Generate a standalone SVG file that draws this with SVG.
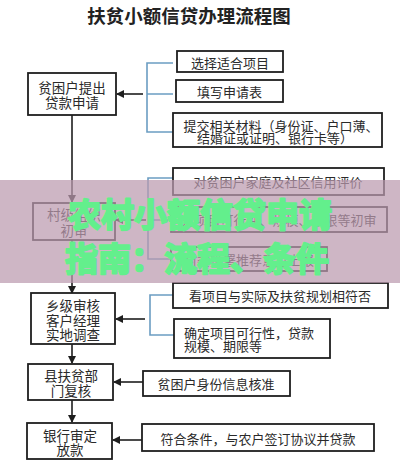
<svg xmlns="http://www.w3.org/2000/svg" width="400" height="464" viewBox="0 0 400 464">
<style>
.box{fill:#fff;stroke:#1e1e1e;stroke-width:1.8}
.t{font-family:"Noto Sans CJK SC","Noto Sans",sans-serif;font-size:13px;fill:#2a2a2a;dominant-baseline:central}
.c{text-anchor:middle}
.ln{fill:none;stroke:#1e1e1e;stroke-width:1.6}
.br{fill:none;stroke:#6b9dc2;stroke-width:1.6}
.wm{font-family:"Noto Sans CJK SC","Noto Sans",sans-serif;font-size:33px;font-weight:700;fill:#63ef8c;stroke:#63ef8c;stroke-width:2;stroke-linejoin:round;dominant-baseline:central}
</style>
<defs>
<marker id="ah" markerWidth="8" markerHeight="8" refX="7" refY="4" orient="auto" markerUnits="userSpaceOnUse">
<path d="M0,0 L8,4 L0,8 Z" fill="#1e1e1e"/>
</marker>
</defs>
<rect width="400" height="464" fill="#fff"/>
<text x="189" y="15" class="t c" style="font-size:18.5px;font-weight:700;fill:#222">扶贫小额信贷办理流程图</text>

<g id="connectors">
<path class="ln" d="M72,115 V202" marker-end="url(#ah)"/>
<path class="ln" d="M72,240 V293" marker-end="url(#ah)"/>
<path class="ln" d="M72,344 V363" marker-end="url(#ah)"/>
<path class="ln" d="M72,400 V422" marker-end="url(#ah)"/>
<path class="ln" d="M143,94 H117" marker-end="url(#ah)"/>
<path class="ln" d="M146,220 H116" marker-end="url(#ah)"/>
<path class="ln" d="M145,319 H116" marker-end="url(#ah)"/>
<path class="ln" d="M143,382 H114" marker-end="url(#ah)"/>
<path class="ln" d="M142,440 H113" marker-end="url(#ah)"/>
<path class="br" d="M173,63 H147 V132 H173 M147,94 H173"/>
<path class="br" d="M173,178 H148 V259 H171 M148,220 H171"/>
<path class="br" d="M173,295 H150 V335 H174"/>
</g>

<g id="n1"><rect class="box" x="28" y="73" width="88" height="42"/>
<text class="t c" x="72" y="87" style="font-size:13.5px">贫困户提出</text><text class="t c" x="72" y="102" style="font-size:13.5px">贷款申请</text></g>
<g id="n2"><rect class="box" x="33" y="203" width="82" height="37"/>
<text class="t c" x="74" y="214" style="font-size:13.5px">村级组织</text><text class="t c" x="74" y="230" style="font-size:13.5px">初审</text></g>
<g id="n3"><rect class="box" x="31" y="293" width="84" height="51"/>
<text class="t c" x="73" y="305" style="font-size:13.5px">乡级审核</text><text class="t c" x="73" y="320" style="font-size:13.5px">客户经理</text><text class="t c" x="73" y="334" style="font-size:13.5px">实地调查</text></g>
<g id="n4"><rect class="box" x="28" y="364" width="85" height="36"/>
<text class="t c" x="71" y="375" style="font-size:13.5px">县扶贫部</text><text class="t c" x="71" y="390" style="font-size:13.5px">门复核</text></g>
<g id="n5"><rect class="box" x="27" y="423" width="85" height="36"/>
<text class="t c" x="70" y="435" style="font-size:13.5px">银行审定</text><text class="t c" x="70" y="449" style="font-size:13.5px">放款</text></g>

<g id="b1"><rect class="box" x="177" y="51" width="106" height="21"/><text class="t c" x="230" y="62">选择适合项目</text></g>
<g id="b2"><rect class="box" x="176" y="80" width="107" height="22"/><text class="t c" x="229.5" y="91">填写申请表</text></g>
<g id="b3"><rect class="box" x="173" y="113" width="209" height="34"/>
<text class="t c" x="281" y="125">提交相关材料（身份证、户口薄、</text><text class="t c" x="275" y="137">结婚证或证明、银行卡等）</text></g>
<g id="r1"><rect class="box" x="173" y="168" width="211" height="27"/><text class="t c" x="278" y="181">对贫困户家庭及社区信用评价</text></g>
<g id="r2"><rect class="box" x="171" y="207" width="216" height="25"/><text class="t c" x="279" y="219.5">对项目可行性、规模、期限等初审</text></g>
<g id="r3"><rect class="box" x="171" y="247" width="156" height="24"/><text class="t c" x="249" y="259">村委签署推荐意见上报</text></g>
<g id="r4"><rect class="box" x="173" y="283" width="215" height="25"/><text class="t c" x="280" y="295.5">看项目与实际及扶贫规划相符否</text></g>
<g id="r5"><rect class="box" x="174" y="319" width="156" height="39"/>
<text class="t" x="184" y="332">确定项目可行性，贷款</text><text class="t" x="184" y="345">规模、期限等</text></g>
<g id="r6"><rect class="box" x="143" y="371" width="147" height="25"/><text class="t c" x="216" y="383">贫困户身份信息核准</text></g>
<g id="r7"><rect class="box" x="142" y="424" width="232" height="27"/><text class="t c" x="258" y="438">符合条件，与农户签订协议并贷款</text></g>

<rect x="0" y="180" width="400" height="103" fill="#bb9aae" opacity="0.72"/>
<text class="wm" x="200" y="213" text-anchor="middle">农村小额信贷申请</text>
<text class="wm" x="197" y="257" text-anchor="middle">指南：流程、条件</text>
</svg>
